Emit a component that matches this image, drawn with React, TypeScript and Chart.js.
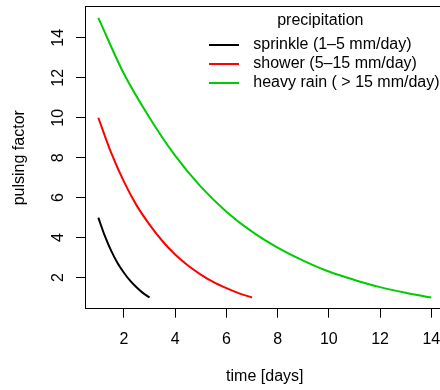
import React, { useEffect, useRef } from "react";
import { Chart, registerables } from "chart.js";

Chart.register(...registerables);

// ---- data ----
const seriesNames = ["sprinkle (1–5 mm/day)", "shower (5–15 mm/day)", "heavy rain ( > 15 mm/day)"];
const seriesColors = ["#000000", "#FF0000", "#00CD00"];

const sprinkleDays = [1, 1.25, 1.5, 1.75, 2, 2.25, 2.5, 2.75, 3];
const sprinkleFactor = [5, 4.1, 3.35, 2.73, 2.24, 1.83, 1.5, 1.22, 1.0];

const showerDays = [1, 1.5, 2, 2.5, 3, 3.5, 4, 4.5, 5, 5.5, 6, 6.5, 7];
const showerFactor = [10, 8.25, 6.8, 5.6, 4.65, 3.83, 3.15, 2.6, 2.15, 1.77, 1.47, 1.21, 1.0];

const heavyDays = [1, 2, 3, 4, 5, 6, 7, 8, 9, 10, 11, 12, 13, 14];
const heavyFactor = [15, 12.2, 10.0, 8.1, 6.55, 5.3, 4.3, 3.5, 2.85, 2.3, 1.88, 1.52, 1.24, 1.0];

const xTickValues = [2, 4, 6, 8, 10, 12, 14];
const yTickValues = [2, 4, 6, 8, 10, 12, 14];

const xTitle = "time [days]";
const yTitle = "pulsing factor";
const legendTitle = "precipitation";

const FONT = "'Liberation Sans', Arial, Helvetica, sans-serif";

function toPoints(xs: number[], ys: number[]) {
  return xs.map((x, i) => ({ x, y: ys[i] }));
}

function lineSwatch(color: string) {
  const c = document.createElement("canvas");
  c.width = 30;
  c.height = 2;
  const g = c.getContext("2d")!;
  g.fillStyle = color;
  g.fillRect(0, 0, 30, 2);
  return c;
}

const legendPlacer = {
  id: "legendPlacer",
  beforeDraw(chart: any) {
    const lg = chart.legend;
    if (!lg) return;
    lg.left = 200.3;
    lg.width = 240;
    lg.top = 6.7;
  },
};

export default function App() {
  const ref = useRef<HTMLCanvasElement>(null);

  useEffect(() => {
    document.body.style.margin = "0";
    const canvas = ref.current!;
    const font = { family: FONT, size: 16 };
    const swatches = seriesColors.map(lineSwatch);
    const series = [
      toPoints(sprinkleDays, sprinkleFactor),
      toPoints(showerDays, showerFactor),
      toPoints(heavyDays, heavyFactor),
    ];

    const chart = new Chart(canvas, {
      type: "line",
      data: {
        datasets: series.map((data, i) => ({
          label: seriesNames[i],
          data,
          borderColor: seriesColors[i],
          backgroundColor: seriesColors[i],
          borderWidth: 2,
          pointRadius: 0,
          fill: false,
          cubicInterpolationMode: "monotone" as const,
          xAxisID: "x",
          yAxisID: "y",
        })),
      },
      options: {
        responsive: false,
        animation: false,
        devicePixelRatio: 1,
        layout: { padding: { top: 6.7, right: 25.4, left: 0, bottom: 0 } },
        plugins: {
          tooltip: { enabled: false },
          legend: {
            position: "chartArea" as any,
            align: "start",
            labels: {
              font,
              color: "#000",
              usePointStyle: true,
              pointStyleWidth: 42,
              boxWidth: 42,
              padding: 3,
              generateLabels: (ch: any) =>
                ch.data.datasets.map((ds: any, i: number) => ({
                  text: ds.label,
                  fillStyle: ds.borderColor,
                  strokeStyle: ds.borderColor,
                  lineWidth: 0,
                  pointStyle: swatches[i],
                  hidden: false,
                  datasetIndex: i,
                  fontColor: "#000",
                })),
            },
            title: {
              display: true,
              text: legendTitle,
              color: "#000",
              font,
              padding: { top: 6.3, bottom: 1.8 },
            },
          },
        },
        scales: {
          x: {
            type: "linear",
            position: "bottom",
            min: 0.48,
            max: 14.52,
            afterBuildTicks: (s: any) => {
              s.ticks = xTickValues.map((v) => ({ value: v }));
            },
            afterFit: (s: any) => {
              s.height = 81.3;
              s.paddingLeft = 0;
              s.paddingRight = 0;
            },
            ticks: {
              font,
              color: "#000",
              padding: 12,
              autoSkip: false,
              maxRotation: 0,
              minRotation: 0,
            },
            grid: {
              drawOnChartArea: false,
              drawTicks: true,
              tickLength: 9,
              color: "#000",
              lineWidth: 1,
            },
            border: { display: true, color: "#000", width: 1 },
            title: {
              display: true,
              text: xTitle,
              color: "#000",
              font,
              padding: { top: 0, bottom: 3.7 },
            },
          },
          xTop: {
            type: "linear",
            position: "top",
            min: 0.48,
            max: 14.52,
            afterFit: (s: any) => {
              s.height = 0;
              s.paddingLeft = 0;
              s.paddingRight = 0;
            },
            ticks: { display: false },
            grid: { display: false, drawTicks: false },
            border: { display: true, color: "#000", width: 1 },
          },
          y: {
            type: "linear",
            position: "left",
            min: 0.44,
            max: 15.56,
            afterBuildTicks: (s: any) => {
              s.ticks = yTickValues.map((v) => ({ value: v }));
            },
            afterFit: (s: any) => {
              s.width = 85;
              s.paddingTop = 0;
              s.paddingBottom = 0;
            },
            ticks: {
              font,
              color: "#000",
              padding: 8.8,
              autoSkip: false,
              minRotation: 90,
              maxRotation: 90,
              crossAlign: "center",
            },
            grid: {
              drawOnChartArea: false,
              drawTicks: true,
              tickLength: 9,
              color: "#000",
              lineWidth: 1,
            },
            border: { display: true, color: "#000", width: 1 },
            title: {
              display: true,
              text: yTitle,
              color: "#000",
              font,
              padding: { top: 10.4, bottom: 0 },
            },
          },
        },
      },
      plugins: [legendPlacer],
    } as any);

    return () => chart.destroy();
  }, []);

  return (
    <div style={{ width: 440, height: 390, overflow: "hidden", background: "#fff" }}>
      <canvas ref={ref} width={470} height={390} style={{ width: 470, height: 390, display: "block" }} />
    </div>
  );
}
